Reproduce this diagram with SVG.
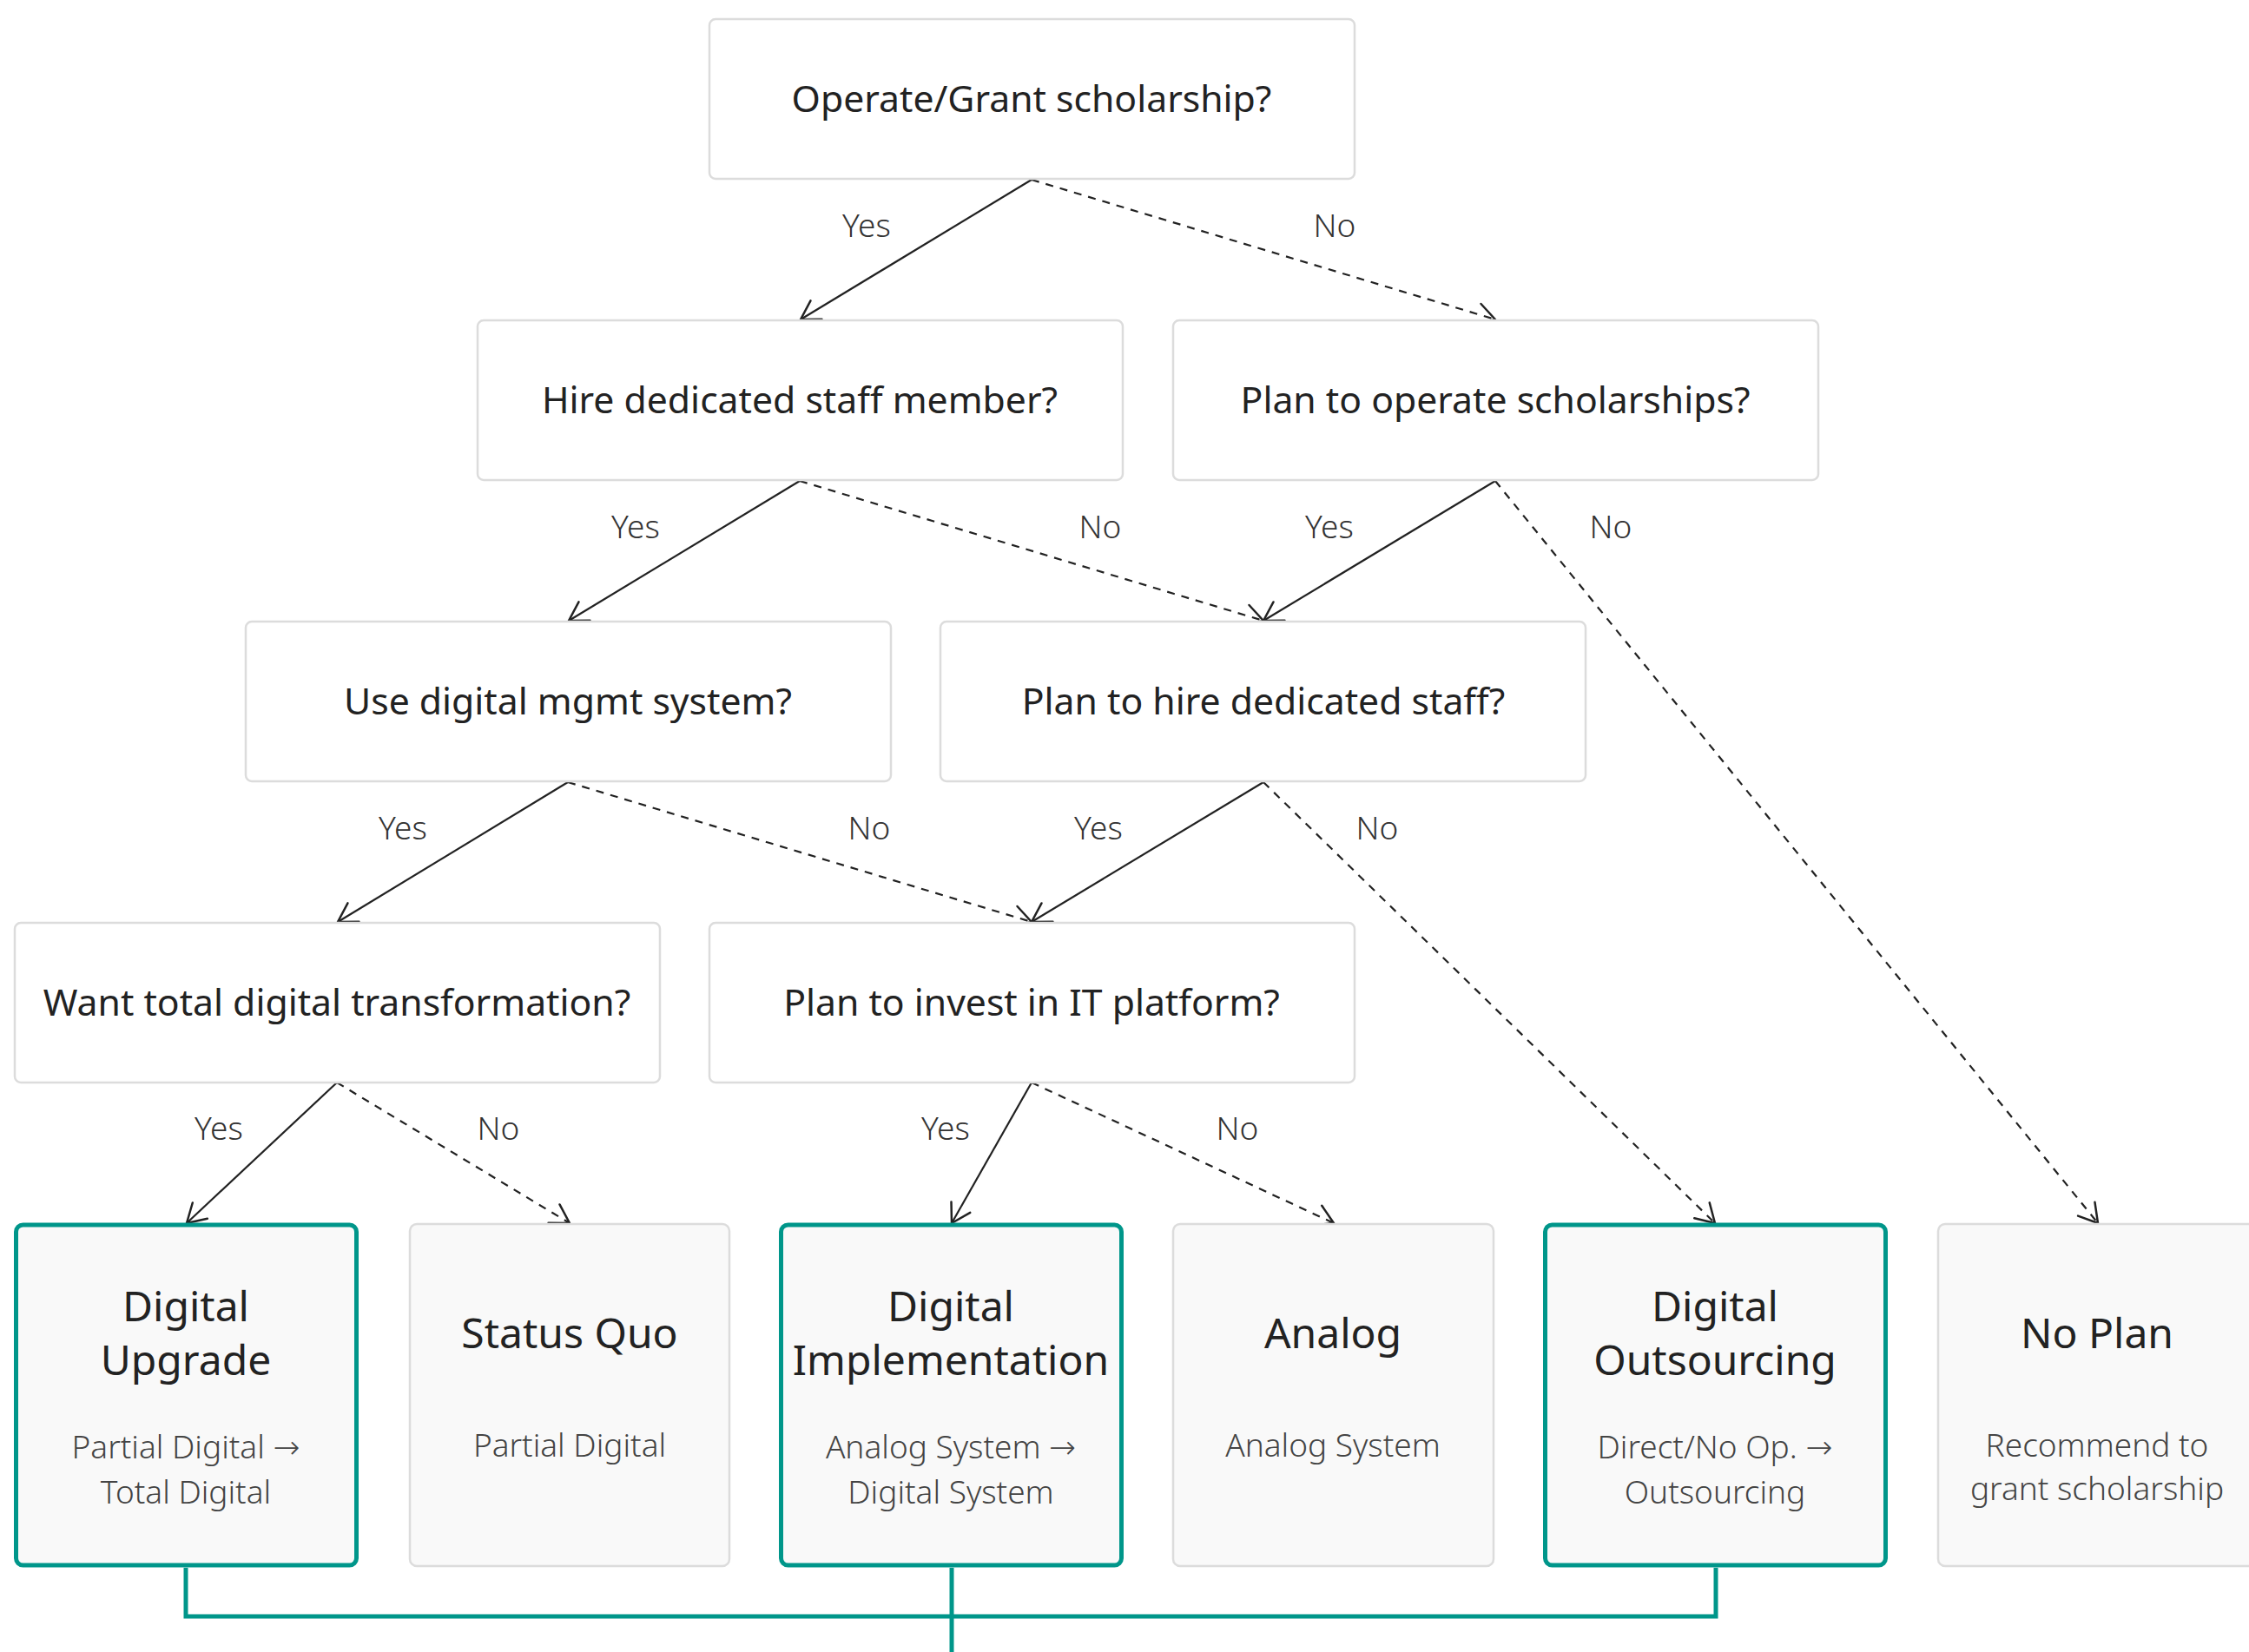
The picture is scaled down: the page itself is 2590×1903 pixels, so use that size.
<svg xmlns="http://www.w3.org/2000/svg" width="2590" height="1903" viewBox="0 0 2590 1903">
<style>
.q rect{fill:#ffffff;stroke:#dcdcdc;stroke-width:2.5}
.leaf rect{fill:#f9f9f9;stroke:#dcdcdc;stroke-width:2.5}
.hl rect{fill:#f9f9f9;stroke:#00968a;stroke-width:5}
.qt{font-family:"Noto Sans","Open Sans",sans-serif;font-size:42.7px;fill:#222;text-anchor:middle}
.tt{font-family:"Noto Sans","Open Sans",sans-serif;font-size:48px;fill:#222;text-anchor:middle}
.st{font-family:"Noto Sans","Open Sans",sans-serif;font-size:37px;font-weight:300;fill:#444;text-anchor:middle}
.ar{font-family:"DejaVu Sans",sans-serif;font-weight:200}
.lb{font-family:"Noto Sans","Open Sans",sans-serif;font-size:37px;font-weight:300;fill:#333;text-anchor:middle}
.e{fill:none;stroke:#222;stroke-width:2.2;marker-end:url(#arr)}
.d{stroke-dasharray:9 8}
.teal{fill:none;stroke:#00968a;stroke-width:5}
</style>
<defs>
<marker id="arr" markerUnits="userSpaceOnUse" viewBox="-26 -16 30 32" refX="0" refY="0" markerWidth="30" markerHeight="32" orient="auto">
<path d="M-21,-12.5 L0,0 L-21,12.5" fill="none" stroke="#222" stroke-width="2.5" stroke-linecap="round" stroke-linejoin="round"/>
</marker>
</defs>
<rect width="2590" height="1903" fill="#ffffff"/>

<g id="connectors">
<path class="e" d="M1188,207 L922,368"/>
<path class="e d" d="M1188,207 L1722,368"/>
<path class="e" d="M921,554 L655,715"/>
<path class="e d" d="M921,554 L1455,715"/>
<path class="e" d="M1722,554 L1455,715"/>
<path class="e d" d="M1722,554 L2416,1409"/>
<path class="e" d="M654,901 L389,1062"/>
<path class="e d" d="M654,901 L1188,1062"/>
<path class="e" d="M1455,901 L1188,1062"/>
<path class="e d" d="M1455,901 L1975,1409"/>
<path class="e" d="M388,1247 L215,1409"/>
<path class="e d" d="M388,1247 L656,1409"/>
<path class="e" d="M1188,1247 L1096,1409"/>
<path class="e d" d="M1188,1247 L1536,1409"/>
<text class="lb" x="998" y="273">Yes</text>
<text class="lb" x="1537" y="273">No</text>
<text class="lb" x="732" y="620">Yes</text>
<text class="lb" x="1267" y="620">No</text>
<text class="lb" x="1531" y="620">Yes</text>
<text class="lb" x="1855" y="620">No</text>
<text class="lb" x="464" y="967">Yes</text>
<text class="lb" x="1001" y="967">No</text>
<text class="lb" x="1265" y="967">Yes</text>
<text class="lb" x="1586" y="967">No</text>
<text class="lb" x="252" y="1313">Yes</text>
<text class="lb" x="574" y="1313">No</text>
<text class="lb" x="1089" y="1313">Yes</text>
<text class="lb" x="1425" y="1313">No</text>
<path class="teal" d="M214,1806 V1862 H1976 V1806"/>
<path class="teal" d="M1096,1806 V1910"/>
</g>

<g id="q1" class="q"><rect x="817" y="22" width="743" height="184" rx="7"/><text class="qt" x="1188" y="129">Operate/Grant scholarship?</text></g>
<g id="q2" class="q"><rect x="550" y="369" width="743" height="184" rx="7"/><text class="qt" x="921" y="476">Hire dedicated staff member?</text></g>
<g id="q3" class="q"><rect x="1351" y="369" width="743" height="184" rx="7"/><text class="qt" x="1722" y="476">Plan to operate scholarships?</text></g>
<g id="q4" class="q"><rect x="283" y="716" width="743" height="184" rx="7"/><text class="qt" x="654" y="823">Use digital mgmt system?</text></g>
<g id="q5" class="q"><rect x="1083" y="716" width="743" height="184" rx="7"/><text class="qt" x="1455" y="823">Plan to hire dedicated staff?</text></g>
<g id="q6" class="q"><rect x="17" y="1063" width="743" height="184" rx="7"/><text class="qt" x="388" y="1170">Want total digital transformation?</text></g>
<g id="q7" class="q"><rect x="817" y="1063" width="743" height="184" rx="7"/><text class="qt" x="1188" y="1170">Plan to invest in IT platform?</text></g>

<g id="digital-upgrade" class="hl"><rect x="18.5" y="1411" width="392" height="392" rx="8"/>
<text class="tt" x="214" y="1522">Digital</text><text class="tt" x="214" y="1584">Upgrade</text>
<text class="st" x="214" y="1680">Partial Digital <tspan class="ar">→</tspan></text><text class="st" x="214" y="1732">Total Digital</text></g>
<g id="status-quo" class="leaf"><rect x="472" y="1410" width="368" height="394" rx="8"/>
<text class="tt" x="656" y="1553">Status Quo</text>
<text class="st" x="656" y="1678">Partial Digital</text></g>
<g id="digital-implementation" class="hl"><rect x="899.5" y="1411" width="392" height="392" rx="8"/>
<text class="tt" x="1095" y="1522">Digital</text><text class="tt" x="1095" y="1584">Implementation</text>
<text class="st" x="1095" y="1680">Analog System <tspan class="ar">→</tspan></text><text class="st" x="1095" y="1732">Digital System</text></g>
<g id="analog" class="leaf"><rect x="1351" y="1410" width="369" height="394" rx="8"/>
<text class="tt" x="1535" y="1553">Analog</text>
<text class="st" x="1535" y="1678">Analog System</text></g>
<g id="digital-outsourcing" class="hl"><rect x="1779.5" y="1411" width="392" height="392" rx="8"/>
<text class="tt" x="1975" y="1522">Digital</text><text class="tt" x="1975" y="1584">Outsourcing</text>
<text class="st" x="1975" y="1680">Direct/No Op. <tspan class="ar">→</tspan></text><text class="st" x="1975" y="1732">Outsourcing</text></g>
<g id="no-plan" class="leaf"><rect x="2232" y="1410" width="420" height="394" rx="8"/>
<text class="tt" x="2415" y="1553">No Plan</text>
<text class="st" x="2415" y="1678">Recommend to</text><text class="st" x="2415" y="1728">grant scholarship</text></g>
</svg>
